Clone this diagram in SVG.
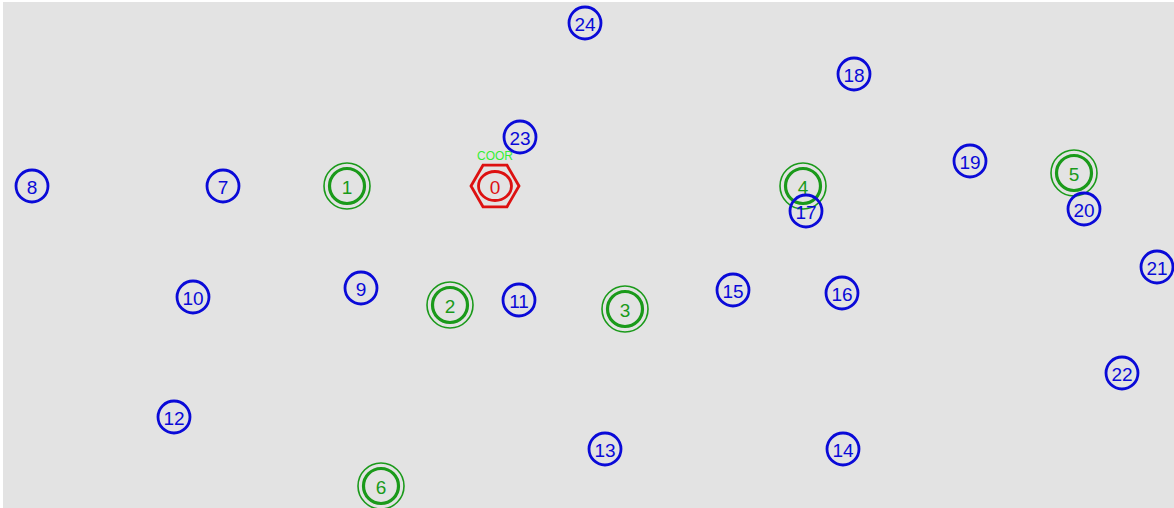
<svg xmlns="http://www.w3.org/2000/svg" width="1174" height="508" viewBox="0 0 1174 508">
<style>
.bg{fill:#e3e3e3}
.b circle{fill:none;stroke:#0a0ad8;stroke-width:2.8}
.b text{fill:#0a0ad8}
.g .o{fill:none;stroke:#1a9a1a;stroke-width:1.6}
.g .i{fill:none;stroke:#1a9a1a;stroke-width:3.2}
.g text{fill:#1a9a1a}
text{font-family:"Liberation Sans",Arial,sans-serif;font-size:19px;text-anchor:middle;dominant-baseline:central}
.r polygon,.r ellipse{fill:none;stroke:#dd1111;stroke-width:2.8}
.r text{fill:#dd1111}
.r .lbl{fill:#33ee33;font-size:12px}
</style>
<rect class="bg" x="3" y="2" width="1171" height="506"/>
<g id="connectors"></g>
<g id="n0" class="r">
<polygon points="519,186 507,165.2 483,165.2 471,186 483,206.8 507,206.8"/>
<ellipse cx="495" cy="186" rx="16.5" ry="14.5"/>
<text x="495" y="187" font-size="16">0</text>
<text class="lbl" x="495" y="156">COOR</text>
</g>
<g id="n1" class="g"><circle class="o" cx="347" cy="186" r="23"/><circle class="i" cx="347" cy="186" r="17.5"/><text x="347" y="187">1</text></g>
<g id="n2" class="g"><circle class="o" cx="450" cy="305" r="23"/><circle class="i" cx="450" cy="305" r="17.5"/><text x="450" y="306">2</text></g>
<g id="n3" class="g"><circle class="o" cx="625" cy="309" r="23"/><circle class="i" cx="625" cy="309" r="17.5"/><text x="625" y="310">3</text></g>
<g id="n4" class="g"><circle class="o" cx="803" cy="186" r="23"/><circle class="i" cx="803" cy="186" r="17.5"/><text x="803" y="187">4</text></g>
<g id="n5" class="g"><circle class="o" cx="1074" cy="173" r="23"/><circle class="i" cx="1074" cy="173" r="17.5"/><text x="1074" y="174">5</text></g>
<g id="n6" class="g"><circle class="o" cx="381" cy="486" r="23"/><circle class="i" cx="381" cy="486" r="17.5"/><text x="381" y="487">6</text></g>
<g id="n7" class="b"><circle cx="223" cy="186" r="16"/><text x="223" y="187">7</text></g>
<g id="n8" class="b"><circle cx="32" cy="186" r="16"/><text x="32" y="187">8</text></g>
<g id="n9" class="b"><circle cx="361" cy="288" r="16"/><text x="361" y="289">9</text></g>
<g id="n10" class="b"><circle cx="193" cy="297" r="16"/><text x="193" y="298">10</text></g>
<g id="n11" class="b"><circle cx="519" cy="300" r="16"/><text x="519" y="301">11</text></g>
<g id="n12" class="b"><circle cx="174" cy="417" r="16"/><text x="174" y="418">12</text></g>
<g id="n13" class="b"><circle cx="605" cy="449" r="16"/><text x="605" y="450">13</text></g>
<g id="n14" class="b"><circle cx="843" cy="449" r="16"/><text x="843" y="450">14</text></g>
<g id="n15" class="b"><circle cx="733" cy="290" r="16"/><text x="733" y="291">15</text></g>
<g id="n16" class="b"><circle cx="842" cy="293" r="16"/><text x="842" y="294">16</text></g>
<g id="n17" class="b"><circle cx="806" cy="211" r="16"/><text x="806" y="212">17</text></g>
<g id="n18" class="b"><circle cx="854" cy="74" r="16"/><text x="854" y="75">18</text></g>
<g id="n19" class="b"><circle cx="970" cy="161" r="16"/><text x="970" y="162">19</text></g>
<g id="n20" class="b"><circle cx="1084" cy="209" r="16"/><text x="1084" y="210">20</text></g>
<g id="n21" class="b"><circle cx="1157" cy="267" r="16"/><text x="1157" y="268">21</text></g>
<g id="n22" class="b"><circle cx="1122" cy="373" r="16"/><text x="1122" y="374">22</text></g>
<g id="n23" class="b"><circle cx="520" cy="137" r="16"/><text x="520" y="138">23</text></g>
<g id="n24" class="b"><circle cx="585" cy="23" r="16"/><text x="585" y="24">24</text></g>
</svg>
